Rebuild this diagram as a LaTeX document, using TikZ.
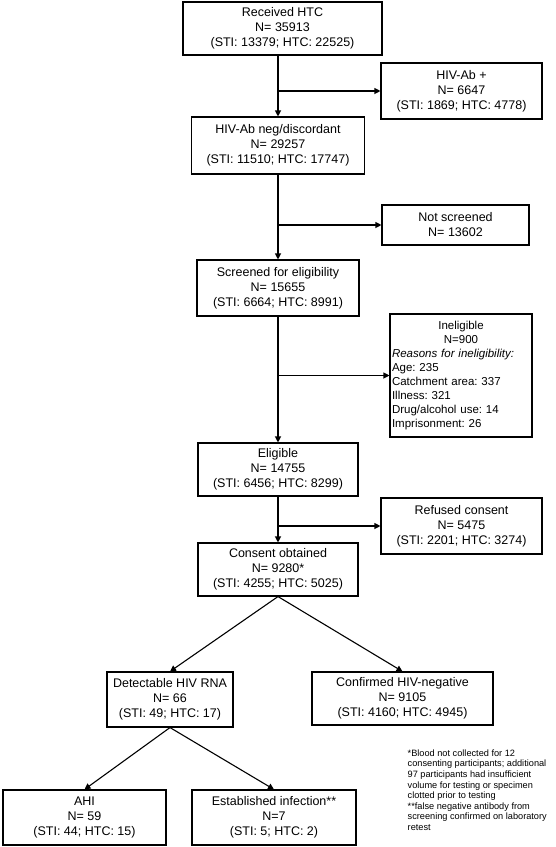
\documentclass[tikz,border=0pt]{standalone}
\usepackage{fontspec}
\setmainfont{Liberation Sans}
\usetikzlibrary{arrows.meta}
\newcommand{\lft}[1]{\makebox[\hsize][l]{#1}}
\begin{document}
\frenchspacing
\begin{tikzpicture}[x=1pt,y=-1pt,
  box/.style={draw, line width=1.1pt, align=center, inner sep=2pt,
    font=\fontsize{12.5}{15}\selectfont},
  arr/.style={line width=1.1pt, -{Triangle[length=6pt,width=6pt]}}]
\pgfmathsetmacro{\colx}{278}
\pgfmathsetmacro{\sidex}{461.5}
\useasboundingbox (0,0) rectangle (556,847);
% main column
\node[box, minimum width=199pt, minimum height=53pt] (recv) at (282.5,28.5) {Received HTC\\N= 35913\\(STI: 13379; HTC: 22525)};
\node[box, minimum width=173pt, minimum height=57pt] (abneg) at (\colx,145.5) {HIV-Ab  neg/discordant\\N= 29257\\(STI: 11510; HTC: 17747)};
\node[box, minimum width=162pt, minimum height=56pt] (scr) at (\colx,288) {Screened for eligibility\\N= 15655\\(STI: 6664; HTC: 8991)};
\node[box, minimum width=160pt, minimum height=53pt] (elig) at (\colx,469.5) {Eligible\\N= 14755\\(STI: 6456; HTC: 8299)};
\node[box, minimum width=160pt, minimum height=53pt] (consent) at (\colx,569.5) {Consent obtained\\N= 9280*\\(STI: 4255; HTC: 5025)};
% side boxes
\node[box, minimum width=161pt, minimum height=56pt] (abpos) at (\sidex,91) {HIV-Ab +\\N= 6647\\(STI: 1869; HTC: 4778)};
\node[box, minimum width=147pt, minimum height=40pt] (notscr) at (455.5,225) {Not screened\\N= 13602};
\node[box, text width=138pt, minimum height=123pt, font=\fontsize{11.5}{14}\selectfont] (inel) at (461,375.5) {Ineligible\\N=900\\\lft{\textit{Reasons for ineligibility:}}\\\lft{Age: 235}\\\lft{Catchment area: 337}\\\lft{Illness: 321}\\\lft{Drug/alcohol use: 14}\\\lft{Imprisonment: 26}};
\node[box, minimum width=161pt, minimum height=56pt] (refused) at (\sidex,526) {Refused consent\\N= 5475\\(STI: 2201; HTC: 3274)};
% lower tree
\node[box, minimum width=126pt, minimum height=55pt] (detect) at (170,699.5) {Detectable HIV RNA\\N= 66\\(STI: 49; HTC:  17)};
\node[box, minimum width=181pt, minimum height=53pt] (confneg) at (402.5,698.5) {Confirmed HIV-negative\\N= 9105\\(STI: 4160; HTC: 4945)};
\node[box, minimum width=163pt, minimum height=55pt] (ahi) at (84.5,817.5) {AHI\\N= 59\\(STI: 44; HTC:  15)};
\node[box, minimum width=164pt, minimum height=55pt] (estab) at (274,817.5) {Established infection**\\N=7\\(STI: 5; HTC: 2)};
\node[anchor=north east, align=left, inner sep=0pt, font=\fontsize{9.2}{10.6}\selectfont] (notes) at (547,749.5) {*Blood not collected for 12\\consenting participants; additional\\97 participants had insufficient\\volume  for testing or specimen\\clotted prior to testing\\**false negative antibody  from\\screening confirmed on laboratory\\retest};
% connectors
\draw[arr] (recv.south -| abneg.north) -- (abneg.north);
\draw[arr] (abpos.west -| abneg.north) -- (abpos.west);
\draw[arr] (abneg.south) -- (scr.north);
\draw[arr] (notscr.west -| abneg.south) -- (notscr.west);
\draw[arr] (scr.south) -- (elig.north);
\draw[arr] (inel.west -| scr.south) -- (inel.west);
\draw[arr] (elig.south) -- (consent.north);
\draw[arr] (refused.west -| elig.south) -- (refused.west);
\draw[arr] (consent.south) -- (detect.north);
\draw[arr] (consent.south) -- (confneg.north);
\draw[arr] (detect.south) -- (ahi.north);
\draw[arr] (detect.south) -- (estab.north);
\end{tikzpicture}
\end{document}
